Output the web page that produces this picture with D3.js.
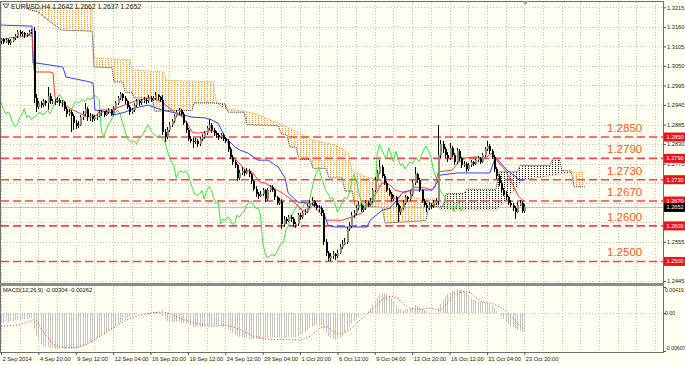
<!DOCTYPE html>
<html>
<head>
<meta charset="utf-8">
<script src="https://cdn.jsdelivr.net/npm/d3@7"></script>
<style>
body { margin: 0; background: #fff; }
svg text { font-family: "Liberation Sans", Arial, sans-serif; }
</style>
</head>
<body>
<script>
// EURUSD H4, 2 Sep 2014 04:00 .. 23 Oct 2014 20:00, prices in pips (x 1e-4)
let bars = [
[13120,13130,13112,13125],[13125,13128,13112,13118],[13118,13128,13114,13122],[13122,13126,13108,13115],[13115,13125,13110,13120],
[13120,13132,13116,13128],[13128,13140,13124,13135],[13135,13152,13130,13145],[13145,13150,13134,13140],[13140,13148,13135,13142],[13142,13146,13130,13138],
[13138,13144,13132,13140],[13140,13150,13136,13145],[13145,13155,13140,13148],[13148,13160,12945,12960],[12960,12972,12920,12935],[12935,12952,12928,12945],
[12945,12950,12932,12940],[12940,12958,12935,12950],[12950,12955,12938,12945],[12945,12990,12925,12965],[12965,12975,12942,12950],[12950,12958,12944,12952],
[12952,12958,12940,12950],[12950,12962,12945,12955],[12955,12960,12938,12945],[12945,12955,12935,12948],[12948,12952,12922,12930],[12930,12935,12905,12915],
[12915,12928,12908,12920],[12920,12925,12865,12910],[12910,12915,12870,12890],[12890,12898,12872,12880],[12880,12895,12875,12885],[12885,12912,12880,12905],
[12905,12922,12898,12915],[12915,12945,12908,12930],[12930,12935,12895,12905],[12905,12918,12895,12910],[12910,12915,12892,12900],[12900,12912,12894,12905],
[12905,12915,12898,12910],[12910,12925,12905,12918],[12918,12926,12910,12920],[12920,12924,12905,12912],[12912,12926,12908,12920],[12920,12932,12915,12925],
[12925,12930,12908,12915],[12915,12936,12910,12930],[12930,12952,12925,12945],[12945,12966,12940,12960],[12960,12978,12955,12970],[12970,12975,12952,12960],
[12960,12965,12944,12950],[12950,12955,12928,12935],[12935,12940,12912,12920],[12920,12932,12915,12925],[12925,12946,12920,12940],[12940,12956,12935,12950],
[12950,12955,12938,12945],[12945,12958,12940,12950],[12950,12962,12945,12955],[12955,12960,12942,12950],[12950,12968,12946,12960],[12960,12965,12948,12955],
[12955,12966,12950,12960],[12960,12976,12955,12968],[12968,12972,12955,12962],[12962,12966,12948,12955],[12955,12968,12855,12865],[12865,12872,12835,12850],
[12850,12878,12845,12870],[12870,12892,12865,12885],[12885,12900,12878,12895],[12895,12915,12890,12910],[12910,12926,12905,12920],[12920,12932,12912,12925],
[12925,12930,12908,12915],[12915,12920,12885,12890],[12890,12895,12862,12870],[12870,12875,12838,12845],[12845,12852,12832,12840],[12840,12846,12820,12835],
[12835,12848,12830,12840],[12840,12845,12822,12830],[12830,12850,12826,12845],[12845,12858,12840,12850],[12850,12866,12845,12860],[12860,12882,12855,12875],
[12875,12900,12870,12885],[12885,12890,12862,12870],[12870,12876,12852,12860],[12860,12866,12848,12855],[12855,12860,12842,12850],[12850,12862,12845,12855],
[12855,12860,12838,12845],[12845,12850,12832,12840],[12840,12845,12808,12815],[12815,12822,12788,12795],[12795,12800,12772,12780],[12780,12786,12762,12770],
[12770,12775,12725,12735],[12735,12758,12730,12750],[12750,12765,12742,12755],[12755,12760,12740,12750],[12750,12762,12745,12755],[12755,12760,12738,12745],
[12745,12750,12718,12725],[12725,12730,12698,12705],[12705,12712,12682,12690],[12690,12695,12676,12685],[12685,12698,12680,12690],[12690,12708,12685,12700],
[12700,12704,12668,12675],[12675,12706,12670,12700],[12700,12716,12695,12710],[12710,12714,12694,12700],[12700,12705,12674,12680],[12680,12685,12658,12665],
[12665,12678,12660,12670],[12670,12676,12590,12605],[12605,12628,12598,12620],[12620,12625,12606,12615],[12615,12632,12610,12625],[12625,12630,12612,12620],
[12620,12624,12596,12605],[12605,12612,12594,12605],[12605,12636,12600,12630],[12630,12635,12618,12625],[12625,12642,12620,12635],[12635,12648,12630,12640],
[12640,12662,12636,12655],[12655,12672,12650,12665],[12665,12680,12658,12670],[12670,12674,12652,12660],[12660,12665,12644,12650],[12650,12658,12640,12650],
[12650,12655,12628,12635],[12635,12645,12545,12555],[12555,12562,12515,12525],[12525,12530,12500,12510],[12510,12525,12502,12515],[12515,12528,12508,12520],
[12520,12524,12505,12515],[12515,12532,12510,12525],[12525,12548,12520,12540],[12540,12560,12535,12550],[12550,12565,12545,12555],[12555,12598,12550,12590],
[12590,12610,12585,12600],[12600,12640,12595,12630],[12630,12645,12622,12635],[12635,12658,12630,12650],[12650,12670,12645,12660],[12660,12664,12638,12645],
[12645,12656,12640,12650],[12650,12672,12645,12665],[12665,12670,12652,12660],[12660,12678,12655,12670],[12670,12708,12665,12700],[12700,12738,12695,12730],
[12730,12758,12725,12750],[12750,12785,12745,12765],[12765,12770,12735,12740],[12740,12745,12715,12720],[12720,12725,12695,12700],[12700,12708,12684,12690],
[12690,12695,12668,12675],[12675,12688,12670,12680],[12680,12685,12652,12660],[12660,12665,12610,12640],[12640,12656,12632,12650],[12650,12672,12645,12665],
[12665,12688,12660,12680],[12680,12685,12668,12675],[12675,12698,12670,12690],[12690,12728,12685,12720],[12720,12765,12715,12745],[12745,12750,12722,12730],
[12730,12735,12695,12700],[12700,12705,12664,12670],[12670,12675,12652,12660],[12660,12664,12640,12650],[12650,12666,12645,12660],[12660,12665,12648,12655],
[12655,12672,12650,12665],[12665,12678,12660,12670],[12670,12885,12660,12800],[12800,12842,12790,12830],[12830,12838,12805,12815],[12815,12822,12792,12800],
[12800,12808,12780,12790],[12790,12832,12785,12820],[12820,12826,12795,12800],[12800,12806,12772,12780],[12780,12818,12775,12810],[12810,12815,12784,12790],
[12790,12795,12762,12770],[12770,12782,12765,12775],[12775,12780,12752,12760],[12760,12776,12755,12770],[12770,12786,12765,12780],[12780,12784,12768,12775],
[12775,12792,12770,12785],[12785,12796,12780,12790],[12790,12794,12774,12780],[12780,12806,12776,12800],[12800,12822,12795,12815],[12815,12840,12810,12825],
[12825,12830,12802,12810],[12810,12815,12788,12795],[12795,12800,12752,12760],[12760,12765,12732,12740],[12740,12745,12712,12720],[12720,12726,12694,12700],
[12700,12706,12684,12690],[12690,12698,12672,12680],[12680,12685,12658,12665],[12665,12672,12652,12660],[12660,12665,12642,12650],[12650,12655,12620,12640],
[12640,12668,12635,12660],[12660,12672,12655,12665],[12665,12670,12636,12642],[12642,12662,12637,12652]
]

// ichimoku lines: [bar, price]
let tenkan = [[0,1.3123],[3.9,1.3129],[7.3,1.3131],[13.3,1.3137],[14.1,1.3039],[14.6,1.3033],[21,1.3033],[22.3,1.3030],[23.1,1.2963],[24,1.2954],
[30.8,1.2926],[37.2,1.2906],[41.1,1.2912],[42.4,1.2926],[46.7,1.2926],[50.9,1.2935],[55.2,1.2946],[58.6,1.2954],[64.6,1.2960],[68.9,1.2949],
[71.5,1.2935],[74.5,1.2918],[77.9,1.2906],[79.6,1.2889],[81.8,1.2864],[83.9,1.2861],[87.3,1.2864],[90.3,1.2870],[92.9,1.2850],[95.9,1.2850],
[97.2,1.2833],[98.9,1.2794],[101.5,1.2780],[104.5,1.2757],[107.4,1.2752],[110.9,1.2723],[113,1.2721],[120.3,1.2693],[124.6,1.2673],[128.9,1.2644],
[131,1.2639],[133.6,1.2659],[137.4,1.2630],[139.6,1.2616],[146,1.2616],[150.3,1.2625],[154.5,1.2636],[157.1,1.2664],[160.1,1.2687],[163.1,1.2721],
[166.5,1.2715],[168.7,1.2701],[173,1.2693],[177.2,1.2709],[181.5,1.2707],[184.5,1.2701],[185.8,1.2709],[187.1,1.2752],[193.1,1.2757],[195.6,1.2777],
[198.6,1.2791],[202.9,1.2794],[207.2,1.2791],[210.2,1.2805],[212.8,1.2780],[215.8,1.2757],[218.7,1.2722],[221.3,1.2685],[224,1.2668]]

let kijun = [[0,1.3165],[13.3,1.3162],[13.7,1.3058],[15.4,1.3058],[26.5,1.3047],[27.8,1.3019],[38.1,1.3005],[39.4,1.3002],[40.2,1.2926],[46.7,1.2920],
[48,1.2912],[53.1,1.2920],[57.4,1.2932],[62.9,1.2940],[68.9,1.2926],[74.5,1.2918],[81.8,1.2906],[87.3,1.2904],[90.3,1.2898],[92.9,1.2889],
[95.9,1.2850],[100.2,1.2822],[102.3,1.2813],[105.7,1.2805],[110,1.2785],[114.3,1.2785],[118.6,1.2766],[121.6,1.2735],[122.9,1.2693],[127.1,1.2667],
[132.3,1.2664],[137.4,1.2650],[140,1.2602],[143,1.2597],[156.7,1.2597],[158,1.2616],[163.1,1.2644],[166.5,1.2650],[170.8,1.2684],[172,1.2695],
[176.4,1.2701],[184.5,1.2701],[186.6,1.2721],[188,1.2743],[195.6,1.2749],[209.3,1.2749],[211.5,1.2791],[212.8,1.2785],[216.6,1.2757],[222.2,1.2729],[224,1.2729]]

let spanA = [[0,1.3240],[10.7,1.3240],[11.6,1.3210],[15.8,1.3202],[20.1,1.3179],[24,1.3160],[25.7,1.3151],[39,1.3148],[39.8,1.3047],[47.5,1.3045],
[48.4,1.3005],[52.2,1.3005],[53.1,1.2976],[56.1,1.2976],[56.9,1.2960],[64.6,1.2960],[65.9,1.2922],[72.3,1.2925],[81.8,1.2925],[82.6,1.2946],
[90.3,1.2946],[95.9,1.2943],[97.2,1.2920],[104,1.2920],[105.3,1.2885],[118.6,1.2882],[119.9,1.2860],[122.4,1.2855],[123.7,1.2822],[126.3,1.2822],
[127.6,1.2787],[132.3,1.2787],[133.6,1.2762],[139.1,1.2762],[140.4,1.2735],[146,1.2735],[147.3,1.2698],[150.3,1.2698],[151.5,1.2658],[163.1,1.2652],
[164.4,1.2608],[181.9,1.2615],[183.2,1.2655],[189.2,1.2655],[190.5,1.2690],[198.2,1.2692],[199.5,1.2703],[211.9,1.2703],[213.2,1.2752],[220.9,1.2752],
[222.2,1.2770],[235,1.2770],[236.3,1.2790],[238.9,1.2790],[240.2,1.2755],[244,1.2755],[245.3,1.2710],[250,1.2710]]

let spanB = [[0,1.3240],[10.7,1.3240],[11.6,1.3213],[39,1.3213],[39.8,1.3072],[55.2,1.3067],[56.1,1.3039],[69.8,1.3033],[70.6,1.3010],[90.8,1.3005],
[92,1.2954],[94.6,1.2932],[107.9,1.2918],[121.6,1.2881],[133.1,1.2842],[143,1.2828],[148.5,1.2808],[150.3,1.2757],[155.8,1.2738],[163.1,1.2729],
[168.7,1.2684],[185.8,1.2673],[187.9,1.2645],[212.3,1.2645],[217.9,1.2687],[223.5,1.2729],[242.3,1.2749],[250,1.2752]]

// MACD(12,26,9) main histogram per bar, x 1e-5
let macd = [-160,-155,-150,-140,-130,-120,-115,-110,-105,-100,-95,-90,-85,-80,
-250,-370,-440,-490,-520,-540,-550,-560,-565,-570,-570,-570,-565,-570,-575,-575,-575,-570,-565,-555,-540,
-525,-510,-495,-475,-455,-430,-405,-380,
-350,-330,-310,-290,-265,-240,-210,-180,-150,-125,-105,-85,-65,
-45,-30,-20,-10,0,5,10,15,20,20,25,20,15,
-40,-100,-130,-145,-150,-150,-150,-150,-155,-160,-170,-180,-190,-200,-205,-210,-215,-215,-210,-200,-190,-190,-190,-195,-200,-205,-215,-230,
-260,-290,-320,-345,-365,-380,-390,-400,-405,-410,-415,-420,-420,-420,-415,-410,-400,-395,-390,-385,-380,-375,-375,-390,-395,-395,-390,-385,-380,-375,-365,-350,-330,-300,-270,-240,-215,-200,-190,-185,-190,
-260,-320,-370,-405,-420,-425,-420,-405,-370,-320,-270,-215,-170,-130,-95,-60,-35,-15,
10,40,80,130,190,245,295,320,320,300,265,225,180,130,80,60,55,60,70,85,105,125,120,100,75,50,30,15,10,5,10,
80,150,210,260,300,330,350,360,370,375,370,355,330,290,250,215,195,185,180,175,170,165,150,125,85,40,0,-45,-90,-135,-170,-200,-225,-250,-270,-285,-295,-304]

// signal line: [bar, value x 1e-5]
let signal = [[0,-213],[8,-187],[14,-109],[15.4,-135],[18,-291],[22.3,-498],[25.3,-549],[32.5,-549],[36.8,-498],[42.4,-369],[47.9,-238],[53.9,-109],
[59.5,-31],[65.1,5],[69.3,20],[72.3,-5],[76.6,-82],[80.9,-135],[86.5,-187],[90.8,-213],[96.7,-190],[102.3,-264],[107.9,-369],[113.9,-420],[120.7,-420],
[128,-431],[132.3,-369],[136.6,-238],[139.6,-213],[142.1,-291],[145.1,-342],[149.4,-264],[153.7,-109],[159.2,73],[163.5,229],[166.5,269],[169.5,253],
[172.1,151],[175.1,73],[179.4,58],[183.6,82],[187.9,47],[190.9,151],[193.5,306],[197.8,345],[200.8,331],[203.8,229],[206.3,176],[210.6,151],
[214.9,73],[217.9,-31],[220.9,-160],[224,-262]]

let priceTicks = [1.3215,1.3160,1.3105,1.3050,1.2995,1.2940,1.2885,1.2830,1.2775,1.2720,1.2665,1.2610,1.2555,1.2500,1.2445]
let levels = [1.2850,1.2790,1.2730,1.2670,1.2600,1.2500]
let lastPrice = 1.2652
let timeLabels = ["2 Sep 2014","4 Sep 20:00","9 Sep 12:00","12 Sep 04:00","16 Sep 20:00","19 Sep 12:00","24 Sep 12:00",
"29 Sep 04:00","1 Oct 20:00","6 Oct 12:00","9 Oct 04:00","13 Oct 20:00","16 Oct 12:00","21 Oct 04:00","23 Oct 20:00"]
let macdTicks = [0.00419, 0, -0.00607]
let macdTickText = ["0.00419", "0.00", "-0.00607"]

let w = 685, h = 365
let plotR = 663
let mainTop = 2, mainBot = 283
let macdTop = 286, macdBot = 352
let bg = "#fffff2"
let axisFont = "5.7px"

let x = d3.scaleLinear().domain([0, 224]).range([1, 524.3])
let y = d3.scaleLinear().domain([1.2445, 1.3215]).range([281, 7.3])
let ym = d3.scaleLinear().domain([-0.00607, 0.00419]).range([351, 287])

let svg = d3.select("body").append("svg").attr("width", w).attr("height", h)
svg.append("rect").attr("width", w).attr("height", h).attr("fill", bg)

let defs = svg.append("defs")
defs.append("clipPath").attr("id", "clipMain").append("rect")
  .attr("x", 1).attr("y", mainTop).attr("width", plotR - 1).attr("height", mainBot - mainTop)
defs.append("clipPath").attr("id", "clipMacd").append("rect")
  .attr("x", 1).attr("y", macdTop).attr("width", plotR - 1).attr("height", macdBot - macdTop)

// kumo hatch: dotted vertical strokes like the terminal draws them
let pOr = defs.append("pattern").attr("id", "dotOrange").attr("patternUnits", "userSpaceOnUse")
  .attr("width", 3).attr("height", 2)
pOr.append("rect").attr("width", 1).attr("height", 1).attr("fill", "#f09a45")
let pBk = defs.append("pattern").attr("id", "dotBlack").attr("patternUnits", "userSpaceOnUse")
  .attr("width", 3).attr("height", 2)
pBk.append("rect").attr("width", 1).attr("height", 1).attr("fill", "#1e1e1e")

let ptLine = d3.line().x(d => x(d[0])).y(d => y(d[1]))
let aPts = spanA.map(d => [x(d[0]), y(d[1])])
let bPts = spanB.map(d => [x(d[0]), y(d[1])])
let lastX = x(250)
defs.append("clipPath").attr("id", "aboveA").append("path")
  .attr("d", d3.line()(aPts.concat([[lastX, -20], [x(0), -20]])))
defs.append("clipPath").attr("id", "belowA").append("path")
  .attr("d", d3.line()(aPts.concat([[lastX, 400], [x(0), 400]])))

// grid
let grid = svg.append("g").attr("stroke", "#c8c8c8").attr("stroke-dasharray", "1,2")
  .attr("shape-rendering", "crispEdges")
d3.range(0, 290, 8).forEach(b => {
  let gx = Math.round(x(b)) + 0.5
  if (gx > plotR) return
  grid.append("line").attr("x1", gx).attr("x2", gx).attr("y1", mainTop).attr("y2", mainBot)
  grid.append("line").attr("x1", gx).attr("x2", gx).attr("y1", macdTop).attr("y2", macdBot)
})
priceTicks.forEach(p => {
  let gy = Math.round(y(p)) + 0.5
  grid.append("line").attr("x1", 1).attr("x2", plotR).attr("y1", gy).attr("y2", gy)
})
grid.append("line").attr("x1", 1).attr("x2", plotR)
  .attr("y1", Math.round(ym(0)) + 0.5).attr("y2", Math.round(ym(0)) + 0.5)

let main = svg.append("g").attr("clip-path", "url(#clipMain)")

// kumo
let kumo = d3.line()(aPts.concat(bPts.slice().reverse()))
main.append("g").attr("clip-path", "url(#aboveA)").append("path").attr("d", kumo).attr("fill", "url(#dotOrange)")
main.append("g").attr("clip-path", "url(#belowA)").append("path").attr("d", kumo).attr("fill", "url(#dotBlack)")
main.append("path").attr("d", ptLine(spanB)).attr("fill", "none").attr("stroke", "#f09a45").attr("stroke-dasharray", "1,1")
main.append("path").attr("d", ptLine(spanA)).attr("fill", "none").attr("stroke", "#333").attr("stroke-dasharray", "1,1")

// level lines
main.selectAll("line.lvl").data(levels).enter().append("line")
  .attr("x1", 1).attr("x2", plotR).attr("y1", d => y(d)).attr("y2", d => y(d))
  .attr("stroke", "#f2474a").attr("stroke-width", 1.6).attr("stroke-dasharray", "8,4")
main.append("line").attr("x1", 1).attr("x2", plotR)
  .attr("y1", Math.round(y(lastPrice)) + 0.5).attr("y2", Math.round(y(lastPrice)) + 0.5)
  .attr("stroke", "#c0c0c0")

// chikou: closes shifted back 26 bars
let chikou = bars.map((d, i) => [i - 26, d[3] / 1e4]).filter(d => d[0] >= 0)
main.append("path").attr("d", ptLine(chikou)).attr("fill", "none").attr("stroke", "#3ee03a").attr("stroke-width", 1)
main.append("path").attr("d", ptLine(kijun)).attr("fill", "none").attr("stroke", "#3b3bff").attr("stroke-width", 1)
main.append("path").attr("d", ptLine(tenkan)).attr("fill", "none").attr("stroke", "#f03c3c").attr("stroke-width", 1)

// candles
let cg = main.append("g").attr("shape-rendering", "crispEdges")
bars.forEach((d, i) => {
  let cx = Math.round(x(i))
  cg.append("line").attr("x1", cx + 0.5).attr("x2", cx + 0.5)
    .attr("y1", y(d[1] / 1e4)).attr("y2", y(d[2] / 1e4)).attr("stroke", "#000")
  let top = y(Math.max(d[0], d[3]) / 1e4)
  let bot = y(Math.min(d[0], d[3]) / 1e4)
  cg.append("rect").attr("x", cx - 0.5).attr("y", top).attr("width", 2).attr("height", Math.max(1, bot - top))
    .attr("fill", d[3] >= d[0] ? "#8f8f78" : "#000")
})

// level texts
svg.selectAll("text.lvl").data(levels).enter().append("text")
  .attr("x", 607).attr("y", d => y(d) - 5)
  .attr("fill", "#ff5a1e").style("font-size", "11.5px").text(d => d.toFixed(4))

// macd panel
let mg = svg.append("g").attr("clip-path", "url(#clipMacd)")
mg.append("g").attr("shape-rendering", "crispEdges").selectAll("line").data(macd).enter().append("line")
  .attr("x1", (d, i) => Math.round(x(i)) + 0.5).attr("x2", (d, i) => Math.round(x(i)) + 0.5)
  .attr("y1", ym(0)).attr("y2", d => ym(d / 1e5)).attr("stroke", "#c4c4c4")
mg.append("path").attr("d", d3.line().x(d => x(d[0])).y(d => ym(d[1] / 1e5))(signal))
  .attr("fill", "none").attr("stroke", "#ff3030").attr("stroke-dasharray", "1,2")

// frames
let fr = svg.append("g").attr("fill", "none").attr("stroke", "#6e6e6e").attr("shape-rendering", "crispEdges")
fr.append("rect").attr("x", 0.5).attr("y", 1.5).attr("width", plotR).attr("height", mainBot - 1)
fr.append("rect").attr("x", 0.5).attr("y", 285.5).attr("width", plotR).attr("height", macdBot - 285)
svg.append("rect").attr("x", 0).attr("y", 283).attr("width", plotR + 1).attr("height", 3).attr("fill", "#8a8a8a")

// price axis; labels hidden behind the tags are left out, as on the chart
let tagVals = levels.concat([lastPrice])
let shownTicks = priceTicks.filter(p => tagVals.every(t => Math.abs(y(p) - y(t)) > 4.5))
let yAxis = svg.append("g").attr("transform", `translate(${plotR},0)`)
  .call(d3.axisRight(y).tickValues(shownTicks).tickSize(3).tickFormat(d3.format(".4f")))
yAxis.select(".domain").remove()
yAxis.selectAll("text").style("font-size", axisFont).attr("fill", "#222").attr("x", 4)
yAxis.selectAll("line").attr("stroke", "#555")

// macd scale: labels kept inside the panel edges
let macdAxis = svg.append("g").attr("transform", `translate(${plotR},0)`)
  .call(d3.axisRight(ym).tickValues(macdTicks).tickSize(3).tickFormat((d, i) => macdTickText[i]))
macdAxis.select(".domain").remove()
macdAxis.selectAll("text").style("font-size", "5.2px").attr("fill", "#222").attr("x", 2)
  .attr("dy", (d, i) => ["0.95em", "0.32em", "-0.25em"][i])
macdAxis.selectAll("line").attr("stroke", "#555")

// right side tags
let tags = levels.map(v => [v, "#e8141c"]).concat([[lastPrice, "#000"]])
tags.forEach(t => {
  let ty = y(t[0])
  svg.append("rect").attr("x", plotR + 1).attr("y", ty - 4.5).attr("width", 21).attr("height", 9).attr("fill", t[1])
  svg.append("text").attr("x", plotR + 3.5).attr("y", ty + 2).attr("fill", "#fff")
    .style("font-size", "5.6px").text(t[0].toFixed(4))
})

// time axis
let tIdx = timeLabels.map((d, i) => i * 16)
let xAxis = svg.append("g").attr("transform", `translate(0,${macdBot})`)
  .call(d3.axisBottom(x).tickValues(tIdx).tickSize(3).tickFormat((d, i) => timeLabels[i]))
xAxis.select(".domain").remove()
xAxis.selectAll("text").style("font-size", axisFont).attr("fill", "#222")
  .attr("text-anchor", "start").attr("dx", 1).attr("y", 5)
xAxis.selectAll("line").attr("stroke", "#555")

// header texts
svg.append("path").attr("d", "M3,4 L9,4 L6,8 Z").attr("fill", "#fff").attr("stroke", "#333").attr("stroke-width", 0.8)
svg.append("text").attr("x", 11).attr("y", 9).style("font-size", "6.8px").attr("fill", "#111")
  .text("EURUSD,H4  1.2642 1.2662 1.2637 1.2652")
svg.append("text").attr("x", 3).attr("y", 292).style("font-size", "5.8px").attr("fill", "#111")
  .text("MACD(12,26,9) -0.00304 -0.00262")
svg.append("path").attr("d", `M${x(224) + 1},1 l-3,0 l3,4 l3,-4 z`).attr("fill", "#999")
</script>
</body>
</html>
